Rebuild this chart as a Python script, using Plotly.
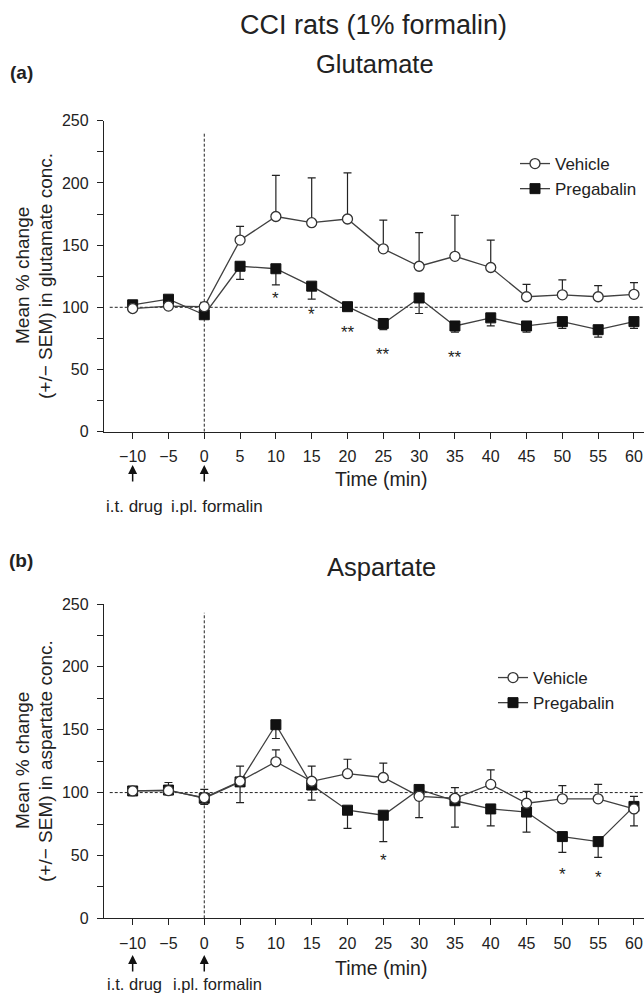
import plotly.graph_objects as go

# ---------------- data ----------------
time_min = [-10, -5, 0, 5, 10, 15, 20, 25, 30, 35, 40, 45, 50, 55, 60]
tick_vals_x = [-10, -5, 0, 5, 10, 15, 20, 25, 30, 35, 40, 45, 50, 55, 60]

# (a) Glutamate
glu_vehicle = [99, 101, 100.5, 154, 173, 168, 171, 147, 133, 141, 132, 108.5, 110, 108.5, 110.4]
glu_vehicle_sem = [1.5, 2, 3.5, 11, 33, 36, 37, 23, 27, 33, 22, 10, 12, 9, 9.5]
glu_pregabalin = [102, 106.5, 94, 133, 131, 117, 100.5, 87, 107.5, 85, 91.5, 85, 88.5, 82, 88.5]
glu_pregabalin_sem = [1.5, 2, 3, 10.5, 13, 10.5, 2, 5, 12.5, 5, 6.5, 5, 5.5, 6, 5.5]
glu_sig_x = [10, 15, 20, 25, 35]
glu_sig_y = [111, 98.6, 84, 66, 64]
glu_sig_text = ["*", "*", "**", "**", "**"]

# (b) Aspartate
asp_vehicle = [101.3, 101.5, 96, 109, 124.5, 109, 115, 112, 97, 95.5, 106.5, 91.5, 95, 95, 87]
asp_vehicle_sem = [2, 6.5, 6.5, 12, 9.5, 12, 11.5, 11.5, 4, 8.5, 11.5, 9.5, 10.5, 11.5, 10]
asp_pregabalin = [101.3, 102, 95.5, 108.5, 154, 106, 86, 82, 102.5, 93.5, 87, 84.5, 65, 61, 89]
asp_pregabalin_sem = [1.5, 2, 5, 16.5, 11, 12, 14.5, 21, 22.5, 21, 13.5, 16, 12.5, 12.5, 15.5]
asp_sig_x = [25, 50, 55]
asp_sig_y = [49.6, 39, 36.6]
asp_sig_text = ["*", "*", "*"]

BASELINE = 100
INJECTION_TIME = 0
DRUG_TIME = -10

# ---------------- layout helpers ----------------
W, H = 644, 996
ML, MR, MT, MB = 104, 0, 0, 0
PW = W - ML - MR
PH = H - MT - MB
FONT = "Liberation Sans, Arial, Helvetica, sans-serif"
TXT = "#222222"
LINE = "#404040"


def pxx(px):
    return (px - ML) / PW


def pxy(py):
    return 1 - (py - MT) / PH


fig = go.Figure()

panels = [
    dict(xa="x", ya="y", legend="legend", veh=glu_vehicle, vsem=glu_vehicle_sem,
         pre=glu_pregabalin, psem=glu_pregabalin_sem,
         sx=glu_sig_x, sy=glu_sig_y, st=glu_sig_text, vtop=241),
    dict(xa="x2", ya="y2", legend="legend2", veh=asp_vehicle, vsem=asp_vehicle_sem,
         pre=asp_pregabalin, psem=asp_pregabalin_sem,
         sx=asp_sig_x, sy=asp_sig_y, st=asp_sig_text, vtop=243),
]

zeros = [0] * len(time_min)
for p in panels:
    fig.add_trace(go.Scatter(
        x=time_min, y=p["pre"], xaxis=p["xa"], yaxis=p["ya"], name="Pregabalin",
        legend=p["legend"], mode="lines+markers",
        line=dict(color=LINE, width=1.3),
        marker=dict(symbol="square", size=10, color="#111111",
                    line=dict(color="#111111", width=1)),
        error_y=dict(type="data", symmetric=False, array=zeros,
                     arrayminus=p["psem"], color="#222222", thickness=1.2, width=4),
        legendrank=2,
    ))
    fig.add_trace(go.Scatter(
        x=time_min, y=p["veh"], xaxis=p["xa"], yaxis=p["ya"], name="Vehicle",
        legend=p["legend"], mode="lines+markers",
        line=dict(color=LINE, width=1.3),
        marker=dict(symbol="circle", size=10, color="white",
                    line=dict(color="#333333", width=1.3)),
        error_y=dict(type="data", symmetric=False, array=p["vsem"],
                     arrayminus=zeros, color="#222222", thickness=1.2, width=4),
        legendrank=1,
    ))
    # significance marks
    for sx, sy, st in zip(p["sx"], p["sy"], p["st"]):
        fig.add_annotation(x=sx, y=sy, xref=p["xa"], yref=p["ya"], text=st,
                           showarrow=False, yshift=-5,
                           font=dict(family=FONT, size=17, color=TXT))
    # baseline and injection reference lines
    fig.add_shape(type="line", xref=p["xa"], yref=p["ya"], x0=-13.2, x1=61.4,
                  y0=BASELINE, y1=BASELINE, layer="below",
                  line=dict(color="#222222", width=1, dash="3px,2px"))
    fig.add_shape(type="line", xref=p["xa"], yref=p["ya"], x0=INJECTION_TIME,
                  x1=INJECTION_TIME, y0=0, y1=p["vtop"], layer="below",
                  line=dict(color="#222222", width=1, dash="3px,2px"))

# axes
top_dom = [pxy(431.7), pxy(120.7)]
bot_dom = [pxy(918.3), pxy(604)]
xcommon = dict(range=[-14, 61.4], tickmode="array", tickvals=tick_vals_x,
               ticks="outside", ticklen=6, tickwidth=1.2, tickcolor="#222",
               showline=True, linecolor="#222", linewidth=1.3, showgrid=False,
               zeroline=False, ticklabelstandoff=4, automargin=False,
               tickfont=dict(family=FONT, size=16, color=TXT))
ycommon = dict(range=[0, 250], dtick=50, tick0=0, ticks="outside", ticklen=6,
               tickwidth=1.2, tickcolor="#222", showline=True, linecolor="#222",
               linewidth=1.3, showgrid=False, zeroline=False, ticklabelstandoff=5,
               automargin=False,
               minor=dict(dtick=25, ticks="outside", ticklen=6, tickwidth=1.2,
                          tickcolor="#222", showgrid=False),
               tickfont=dict(family=FONT, size=16, color=TXT))

fig.update_layout(
    template="none",
    xaxis=dict(domain=[0, 1], anchor="y", **xcommon),
    yaxis=dict(domain=top_dom, anchor="x", **ycommon),
    xaxis2=dict(domain=[0, 1], anchor="y2", **xcommon),
    yaxis2=dict(domain=bot_dom, anchor="x2", **ycommon),
)

legend_common = dict(font=dict(family=FONT, size=17, color=TXT), bgcolor="rgba(0,0,0,0)",
                     xanchor="left", yanchor="top", itemwidth=30, tracegroupgap=0,
                     traceorder="normal")
fig.update_layout(
    legend=dict(x=pxx(515), y=pxy(146), **legend_common),
    legend2=dict(x=pxx(493), y=pxy(660), **legend_common),
)

# texts
def ann(text, x, y, size, bold=False, angle=0):
    fig.add_annotation(text=f"<b>{text}</b>" if bold else text, x=pxx(x), y=pxy(y),
                       xref="paper", yref="paper", showarrow=False,
                       xanchor="center", yanchor="middle", textangle=angle,
                       font=dict(family=FONT, size=size, color=TXT))


ann("CCI rats (1% formalin)", 373, 25, 27)
ann("(a)", 21, 72, 19, bold=True)
ann("Glutamate", 375, 64, 25.5)
ann("(b)", 21, 560, 19, bold=True)
ann("Aspartate", 381, 567, 25.5)

ann("Mean % change", 22, 276, 19, angle=-90)
ann("(+/\u2212 SEM) in glutamate conc.", 45, 276, 19, angle=-90)
ann("Mean % change", 22, 761, 19, angle=-90)
ann("(+/\u2212 SEM) in aspartate conc.", 45, 761, 19, angle=-90)

ann("Time (min)", 381, 479, 19.5)
ann("Time (min)", 381, 968, 19.5)

ann("i.t. drug", 134.5, 506, 17)
ann("i.pl. formalin", 217, 506, 17)
ann("i.t. drug", 134.5, 984, 16.5)
ann("i.pl. formalin", 217, 984, 16.5)

# arrows (pointing up towards the time axis)
for xa, head, tail in [("x", 465, 483), ("x2", 955, 973)]:
    for t in [DRUG_TIME, INJECTION_TIME]:
        fig.add_annotation(x=t, y=pxy(head), xref=xa, yref="paper", text="",
                           showarrow=True, ax=0, ay=tail - head, arrowhead=2,
                           arrowsize=1.2, arrowwidth=1.5, arrowcolor="#111")

fig.update_layout(
    width=W, height=H, margin=dict(l=ML, r=MR, t=MT, b=MB, pad=0, autoexpand=False),
    paper_bgcolor="white", plot_bgcolor="white", showlegend=True,
)

fig.write_html(
    "out.html",
    config={"displayModeBar": False},
    post_script="document.body.style.margin='0';document.body.style.overflow='hidden';",
)
